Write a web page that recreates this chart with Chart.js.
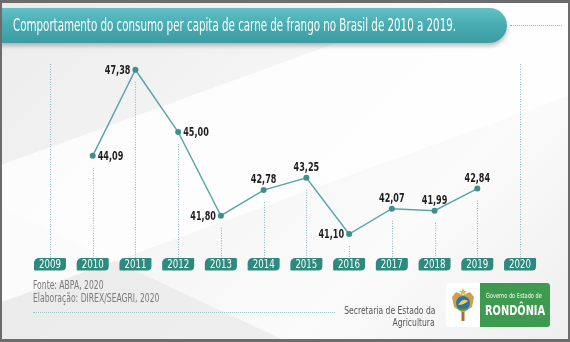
<!DOCTYPE html>
<html lang="pt-BR">
<head>
<meta charset="utf-8">
<title>Consumo per capita de carne de frango</title>
<script src="https://cdn.jsdelivr.net/npm/chart.js@4/dist/chart.umd.min.js"></script>
<style>
  html, body { margin: 0; padding: 0; }
  body { width: 570px; height: 342px; overflow: hidden; font-family: "DejaVu Sans Condensed", sans-serif; }
  #wrap {
    position: relative; width: 570px; height: 342px; overflow: hidden;
    background:
      linear-gradient(160deg, rgba(255,255,255,0) 0%, rgba(255,255,255,0) 30%, rgba(255,255,255,0.8) 30.2%, rgba(255,255,255,0.8) 55%, rgba(255,255,255,0) 55.2%),
      linear-gradient(25deg, rgba(230,230,230,0.6) 0%, rgba(230,230,230,0.6) 22%, rgba(255,255,255,0) 22.2%),
      linear-gradient(135deg, #ececec 0%, #f6f6f6 45%, #fbfbfb 70%, #eeeeee 100%);
  }
  #frame { position: absolute; inset: 0; border: 2px solid #6c6c6c; border-top-width: 3px; border-bottom-width: 3px; pointer-events: none; }
  #chart { position: absolute; left: 0; top: 0; }
  #banner {
    position: absolute; left: 0; top: 8px; width: 507px; height: 35px;
    border-radius: 0 18px 18px 0;
    background: linear-gradient(180deg, #62c1c5 0%, #49aeb3 45%, #3b9ca2 100%);
    box-shadow: 0 3px 4px rgba(0,0,0,0.25);
  }
  #title {
    position: absolute; left: 13px; top: 15px; color: #fff; font-size: 17.5px; white-space: nowrap;
    transform-origin: 0 0;
  }
  #rule-top { position: absolute; left: 510px; top: 25px; width: 52px; border-top: 1px dotted #8fb9bf; }
  .src { position: absolute; left: 33px; color: #7a7a7a; font-size: 11.5px; white-space: nowrap; transform: scaleX(0.74); transform-origin: 0 0; }
  #rule-bottom { position: absolute; left: 33px; top: 312px; width: 302px; border-top: 1px dotted #9ec3c8; }
  .sec { position: absolute; right: 135px; color: #555; font-size: 11px; white-space: nowrap; text-align: right; transform: scaleX(0.77); transform-origin: 100% 0; }
  #logo { position: absolute; left: 446px; top: 283px; width: 104px; height: 44px; }
  #logo .arms { position: absolute; left: 0; top: 0; width: 34px; height: 44px; background: #fff; border-radius: 3px 0 0 3px; }
  #logo .gov { position: absolute; left: 34px; top: 0; width: 70px; height: 44px; background: #3e9a4e; border-radius: 0 3px 3px 0; color: #fff; }
  #logo .gov .small { position: absolute; left: 6px; top: 9px; font-size: 7px; white-space: nowrap; transform: scaleX(0.8); transform-origin: 0 0; }
  #logo .gov .big { position: absolute; left: 5px; top: 19px; font-size: 14px; font-weight: bold; white-space: nowrap; transform: scaleX(0.78); transform-origin: 0 0; }
</style>
</head>
<body>
<div id="wrap">
  <canvas id="chart" width="570" height="342"></canvas>
  <div id="banner"></div>
  <div id="title">Comportamento do consumo per capita de carne de frango no Brasil de 2010 a 2019.</div>
  <div id="rule-top"></div>
  <div class="src" style="top:278px">Fonte: ABPA, 2020</div>
  <div class="src" style="top:291px">Elaboração: DIREX/SEAGRI, 2020</div>
  <div id="rule-bottom"></div>
  <div class="sec" style="top:304px">Secretaria de Estado da</div>
  <div class="sec" style="top:316px">Agricultura</div>
  <div id="logo">
    <div class="arms">
      <svg width="34" height="44" viewBox="0 0 34 44">
        <path d="M6 14 L10 9 L17 12 L24 9 L28 14 L26 24 L17 30 L8 24 Z" fill="#c9a24a"/>
        <circle cx="17" cy="20" r="7" fill="#2f6fb3"/>
        <path d="M12 22 Q17 14 22 18 Q18 22 12 22 Z" fill="#f2d23c"/>
        <path d="M11 24 Q17 27 23 24 L22 26 Q17 29 12 26 Z" fill="#3d9a4f"/>
        <rect x="15.5" y="29" width="3" height="9" fill="#a2733a"/>
        <path d="M17 5 L18.3 8 L21 8 L18.8 9.8 L19.6 12.5 L17 10.8 L14.4 12.5 L15.2 9.8 L13 8 L15.7 8 Z" fill="#e3b83b"/>
      </svg>
    </div>
    <div class="gov">
      <div class="small">Governo do Estado de</div>
      <div class="big">RONDÔNIA</div>
    </div>
  </div>
  <div id="frame"></div>
</div>
<script>
// anos no eixo e consumo per capita (kg/hab/ano)
const anos = ['2009', '2010', '2011', '2012', '2013', '2014', '2015', '2016', '2017', '2018', '2019', '2020'];
const consumo = [null, 44.09, 47.38, 45.00, 41.80, 42.78, 43.25, 41.10, 42.07, 41.99, 42.84, null];
// onde cada rótulo fica em relação ao ponto
const posRotulo = ['', 'right', 'left', 'right', 'left', 'top', 'top', 'left', 'top', 'top', 'top', ''];

const fonteCond = '"DejaVu Sans Condensed", sans-serif';

// fit title into the banner width
const t = document.getElementById('title');
t.style.transform = 'scaleX(' + (443 / t.offsetWidth) + ')';

const BADGE_TOP = 258;

// texto estreitado horizontalmente
function textoEstreito(ctx, txt, x, y, fator) {
  ctx.save();
  ctx.translate(x, y);
  ctx.scale(fator, 1);
  ctx.fillText(txt, 0, 0);
  ctx.restore();
}

// vertical dotted guides from each point down to the year tag
const guias = {
  id: 'guias',
  beforeDatasetsDraw(chart) {
    const ctx = chart.ctx;
    const xs = chart.scales.x, ys = chart.scales.y;
    ctx.save();
    ctx.strokeStyle = '#86b9c0';
    ctx.lineWidth = 1;
    ctx.setLineDash([1, 1.5]);
    anos.forEach((a, i) => {
      const x = Math.round(xs.getPixelForValue(i)) + 0.5;
      const v = consumo[i];
      const y0 = v == null ? chart.chartArea.top : ys.getPixelForValue(v) + 12;
      ctx.beginPath();
      ctx.moveTo(x, y0);
      ctx.lineTo(x, BADGE_TOP);
      ctx.stroke();
    });
    ctx.restore();
  }
};

// year tags and value labels
const rotulos = {
  id: 'rotulos',
  afterDatasetsDraw(chart) {
    const ctx = chart.ctx;
    const xs = chart.scales.x, ys = chart.scales.y;
    ctx.save();
    anos.forEach((a, i) => {
      const x = xs.getPixelForValue(i);
      ctx.fillStyle = '#2e8a7e';
      ctx.beginPath();
      ctx.roundRect(x - 16, BADGE_TOP, 32, 12.5, [5, 1, 4, 1]);
      ctx.fill();
      ctx.fillStyle = '#fff';
      ctx.font = '12px ' + fonteCond;
      ctx.textAlign = 'center';
      ctx.textBaseline = 'middle';
      textoEstreito(ctx, a, x, BADGE_TOP + 6.8, 0.8);
    });
    ctx.fillStyle = '#1e1e1e';
    ctx.font = 'bold 12px ' + fonteCond;
    consumo.forEach((v, i) => {
      if (v == null) return;
      const x = xs.getPixelForValue(i), y = ys.getPixelForValue(v);
      const txt = v.toFixed(2).replace('.', ',');
      const p = posRotulo[i];
      if (p === 'right') { ctx.textAlign = 'left'; ctx.textBaseline = 'middle'; textoEstreito(ctx, txt, x + 5, y + 1, 0.75); }
      else if (p === 'left') { ctx.textAlign = 'right'; ctx.textBaseline = 'middle'; textoEstreito(ctx, txt, x - 5, y + 1, 0.75); }
      else { ctx.textAlign = 'center'; ctx.textBaseline = 'bottom'; textoEstreito(ctx, txt, x, y - 4, 0.75); }
    });
    ctx.restore();
  }
};

new Chart(document.getElementById('chart'), {
  type: 'line',
  data: {
    labels: anos,
    datasets: [{
      data: consumo,
      borderColor: '#5aa6aa',
      borderWidth: 1.5,
      pointRadius: 3,
      pointBackgroundColor: '#3f8f8d',
      pointBorderWidth: 0,
      tension: 0,
      spanGaps: false
    }]
  },
  options: {
    responsive: false,
    animation: false,
    layout: { padding: { left: 28.6, right: 28.6, top: 64, bottom: 87 } },
    scales: {
      x: { display: false, offset: true },
      y: { display: false, min: 40.3, max: 47.6 }
    },
    plugins: { legend: { display: false }, tooltip: { enabled: false } }
  },
  plugins: [guias, rotulos]
});
</script>
</body>
</html>
